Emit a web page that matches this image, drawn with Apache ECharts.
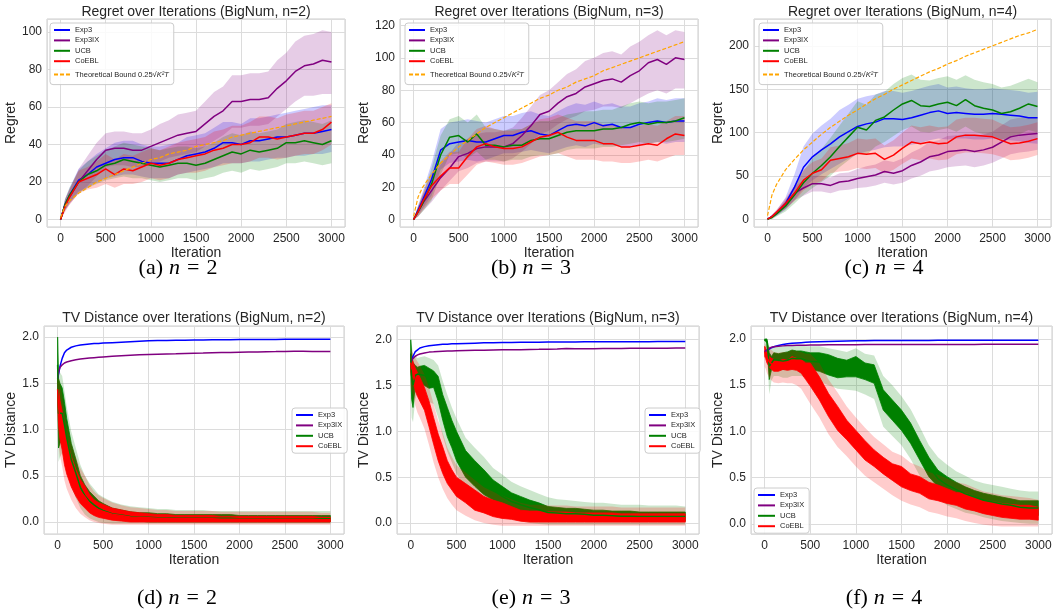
<!DOCTYPE html>
<html><head><meta charset="utf-8">
<script src="https://cdn.jsdelivr.net/npm/echarts@6/dist/echarts.min.js"></script>
<style>html,body{margin:0;padding:0;background:#fff}#c{width:1056px;height:610px}</style>
</head><body><div id="c"></div><script>
// ---------- iteration grids ----------
const regretIter = [0,50,100,200,300,400,500,600,700,800,900,1000,1100,1200,1300,1400,1500,1600,1700,1800,1900,2000,2100,2200,2300,2400,2500,2600,2700,2800,2900,3000];
const tvIter = [0,10,25,50,75,100,150,200,250,300,350,400,450,500,600,700,800,900,1000,1100,1200,1300,1400,1500,1600,1700,1800,1900,2000,2100,2200,2300,2400,2500,2600,2700,2800,2900,3000];

// ---------- Regret n=2 ----------
const r2Exp3   = [0,8,13,21,24,28,30,32,33,33,31,30,30,30,32,34,35,36,38,41,41,40,42,42,43,44,44,45,46,46,47,48];
const r2Exp3Lo = [0,5,9,15,17,20,22,23,24,24,23,22,22,22,24,25,26,27,28,30,30,30,31,31,32,33,33,34,34,35,35,36];
const r2Exp3Hi = [0,11,17,27,31,35,38,41,42,42,40,39,39,40,41,44,45,46,49,52,52,51,54,54,55,56,57,58,59,60,61,61];
const r2IX     = [0,8,12,20,26,32,37,38,38,37,37,39,41,43,45,46,47,51,55,58,63,63,64,64,65,70,74,79,82,83,85,84];
const r2IXLo   = [0,5,8,14,18,23,28,29,29,28,28,30,31,33,34,35,36,39,42,45,49,49,50,50,51,55,59,63,66,66,67,67];
const r2IXHi   = [0,11,16,27,34,41,46,47,47,46,46,48,51,53,56,57,58,63,68,71,77,77,78,78,79,85,89,95,98,99,101,100];
const r2UCB    = [0,8,13,20,24,26,29,30,32,31,30,29,28,29,30,30,29,30,32,34,36,35,37,36,37,38,41,41,42,41,40,42];
const r2UCBLo  = [0,5,9,14,17,19,21,22,23,22,22,21,20,21,22,22,21,22,23,25,26,25,27,26,27,28,30,30,31,30,29,30];
const r2UCBHi  = [0,11,17,26,31,34,37,39,41,40,39,38,37,38,39,39,38,39,41,44,46,45,47,46,47,48,51,52,53,52,51,53];
const r2Co     = [0,7,12,20,22,24,27,24,27,26,28,30,29,30,32,33,34,35,37,38,40,40,41,44,44,43,44,45,46,46,48,52];
const r2CoLo   = [0,4,8,14,16,17,19,17,19,19,20,22,21,22,24,25,25,26,28,29,30,30,31,33,33,32,33,34,35,35,37,40];
const r2CoHi   = [0,10,16,26,28,31,35,32,35,34,36,38,37,39,41,42,43,44,47,48,50,50,52,55,55,54,56,57,58,58,60,62];
const r2Bound  = [1,7,10,14,17,20,22,24,26,28,30,32,33,35,36,37,39,40,41,42,44,45,46,47,48,49,50,51,52,53,54,55];

// ---------- Regret n=3 ----------
const r3Exp3   = [0,6,12,25,43,47,48,49,48,48,50,52,52,54,55,53,52,55,58,59,58,60,58,59,57,57,59,60,61,60,61,61];
const r3Exp3Lo = [0,3,7,15,31,35,36,37,36,37,39,41,41,42,43,42,41,43,45,46,45,47,46,46,45,45,46,47,48,47,48,48];
const r3Exp3Hi = [0,9,17,35,56,60,61,62,61,60,62,64,64,66,67,65,64,67,70,72,71,73,71,72,70,70,72,73,75,74,75,75];
const r3IX     = [0,5,10,18,26,32,39,41,44,45,45,45,47,52,58,65,67,72,76,78,82,84,86,87,85,89,92,97,99,96,100,99];
const r3IXLo   = [0,2,5,11,18,24,30,32,35,36,36,36,38,42,47,53,55,59,62,64,67,68,70,70,69,72,75,78,80,78,81,81];
const r3IXHi   = [0,8,15,25,34,41,48,50,53,54,54,55,57,63,70,77,80,85,90,93,98,100,103,104,102,107,110,114,117,114,117,116];
const r3UCB    = [0,5,10,22,40,51,52,48,53,46,46,45,46,46,49,50,50,52,54,55,55,55,56,56,57,59,60,59,60,60,61,63];
const r3UCBLo  = [0,2,5,12,28,40,41,38,42,37,37,36,37,37,39,40,40,41,43,44,44,44,45,45,46,47,48,47,48,48,49,50];
const r3UCBHi  = [0,8,15,32,52,62,64,60,65,57,56,55,56,56,59,61,61,63,65,66,67,67,68,68,70,72,73,72,73,73,74,75];
const r3Co     = [0,5,11,21,27,32,32,39,45,47,45,44,44,45,48,51,52,54,51,49,49,49,47,47,45,45,46,47,46,50,53,52];
const r3CoLo   = [0,2,6,13,18,22,22,28,34,36,35,34,34,35,37,39,40,41,39,37,37,37,36,36,35,35,36,37,36,38,40,40];
const r3CoHi   = [0,8,16,29,36,42,42,50,56,58,56,55,55,56,59,62,63,65,63,61,61,61,59,59,57,57,58,59,58,61,64,64];
const r3Bound  = [2,14,20,28,35,40,45,49,53,57,60,63,66,69,72,75,77,80,82,85,87,89,92,94,96,98,100,102,104,106,108,110];

// ---------- Regret n=4 ----------
const r4Exp3   = [0,3,7,18,37,60,72,80,87,95,101,107,110,112,116,116,115,117,120,123,125,122,123,122,121,121,122,121,120,119,117,117];
const r4Exp3Lo = [0,1,4,11,22,36,45,52,58,64,70,75,78,80,83,84,84,86,88,91,93,92,93,93,92,92,93,92,91,90,88,87];
const r4Exp3Hi = [0,5,10,25,52,84,99,108,116,126,132,139,142,144,148,148,146,148,151,154,156,152,153,151,150,150,151,150,149,148,146,147];
const r4IX     = [0,3,7,17,30,36,41,41,39,43,44,47,49,51,55,53,56,62,66,72,74,78,79,80,78,80,83,89,95,97,98,99];
const r4IXLo   = [0,1,4,12,22,27,32,32,30,33,34,36,37,39,42,40,42,47,50,55,57,60,61,62,60,62,65,70,75,77,78,80];
const r4IXHi   = [0,5,10,22,38,45,50,50,48,53,54,58,61,63,68,66,70,77,82,89,91,96,97,98,96,98,101,108,115,117,118,118];
const r4UCB    = [0,2,6,15,28,42,53,62,72,84,95,106,103,114,118,126,133,137,131,130,133,135,131,138,131,128,126,122,124,128,133,130];
const r4UCBLo  = [0,0,3,9,18,28,36,43,50,60,68,76,74,84,89,96,103,107,101,100,103,105,101,107,101,98,96,92,94,98,103,100];
const r4UCBHi  = [0,4,9,21,38,56,70,81,94,108,122,136,132,144,147,156,163,167,161,160,163,165,161,166,161,158,156,152,154,158,162,158];
const r4Co     = [0,3,8,18,30,45,53,57,68,70,72,76,75,76,69,74,82,89,87,89,87,88,95,97,97,96,95,91,87,88,90,93];
const r4CoLo   = [0,1,5,12,21,33,40,44,53,55,56,59,58,59,53,57,64,70,68,70,68,69,75,77,77,76,75,72,68,69,71,74];
const r4CoHi   = [0,5,11,24,39,57,66,70,83,85,88,93,92,93,85,91,100,108,106,108,106,107,115,117,117,116,115,110,106,107,109,112];
const r4Bound  = [4,28,40,57,69,80,89,98,106,113,120,126,133,139,144,150,155,160,165,170,174,179,183,188,192,196,200,204,208,212,215,219];

// ---------- TV distance n=2 ----------
const tv2Exp3 = [1.55,1.6,1.68,1.77,1.83,1.86,1.89,1.905,1.915,1.92,1.925,1.93,1.932,1.935,1.94,1.945,1.95,1.955,1.96,1.962,1.964,1.966,1.967,1.968,1.969,1.97,1.971,1.972,1.973,1.974,1.974,1.975,1.975,1.976,1.976,1.977,1.977,1.978,1.978];
const tv2IX   = [1.55,1.62,1.67,1.7,1.72,1.73,1.745,1.755,1.762,1.768,1.773,1.777,1.781,1.785,1.792,1.798,1.803,1.808,1.812,1.815,1.818,1.82,1.823,1.825,1.827,1.83,1.832,1.834,1.836,1.838,1.84,1.842,1.843,1.845,1.846,1.846,1.845,1.844,1.843];
const tv2UCBLo  = [1.4,0.8,0.85,0.9,0.8,0.7,0.5,0.38,0.25,0.17,0.12,0.09,0.07,0.05,0.03,0.02,0.01,0.01,0,0,0,0,0,0,0,0,0,0,0,0,0,0,0,0,0,0,0,0,0];
const tv2UCBHi  = [2.0,1.55,1.5,1.45,1.3,1.12,0.85,0.68,0.5,0.4,0.33,0.28,0.23,0.2,0.15,0.13,0.11,0.1,0.1,0.09,0.09,0.08,0.08,0.08,0.08,0.08,0.08,0.08,0.07,0.07,0.07,0.07,0.07,0.07,0.07,0.07,0.07,0.07,0.07];
const tv2UCBBLo = [1.2,0.65,0.7,0.75,0.65,0.55,0.38,0.26,0.15,0.08,0.04,0.02,0,-0.01,-0.02,-0.02,-0.02,-0.02,-0.02,-0.02,-0.02,-0.02,-0.02,-0.02,-0.02,-0.02,-0.02,-0.02,-0.02,-0.02,-0.02,-0.02,-0.02,-0.02,-0.02,-0.02,-0.02,-0.02,-0.02];
const tv2UCBBHi = [2.0,1.65,1.62,1.58,1.42,1.25,0.98,0.8,0.62,0.5,0.42,0.36,0.3,0.27,0.22,0.19,0.17,0.16,0.15,0.14,0.14,0.13,0.13,0.13,0.13,0.12,0.12,0.12,0.12,0.12,0.12,0.12,0.12,0.12,0.12,0.12,0.12,0.12,0.12];
const tv2CoLo   = [1.3,1.05,0.9,0.78,0.62,0.52,0.38,0.28,0.2,0.15,0.1,0.07,0.05,0.04,0.02,0.01,0,0,0,0,0,0,0,0,0,0,0,0,0,0,0,0,0,0,0,0,0,0,0];
const tv2CoHi   = [1.57,1.45,1.32,1.2,1.03,0.9,0.71,0.57,0.46,0.39,0.3,0.24,0.21,0.19,0.15,0.13,0.11,0.1,0.09,0.08,0.08,0.07,0.07,0.07,0.07,0.07,0.06,0.06,0.06,0.06,0.06,0.06,0.06,0.06,0.06,0.06,0.06,0.05,0.05];
const tv2CoBLo  = [1.1,0.85,0.72,0.6,0.45,0.36,0.24,0.15,0.09,0.05,0.02,0,-0.01,-0.02,-0.03,-0.03,-0.03,-0.03,-0.03,-0.03,-0.03,-0.03,-0.03,-0.03,-0.03,-0.03,-0.03,-0.03,-0.03,-0.03,-0.03,-0.03,-0.03,-0.03,-0.03,-0.03,-0.03,-0.03,-0.03];
const tv2CoBHi  = [1.62,1.58,1.5,1.38,1.2,1.05,0.85,0.7,0.58,0.5,0.4,0.33,0.29,0.26,0.21,0.18,0.16,0.15,0.14,0.13,0.13,0.12,0.12,0.12,0.12,0.12,0.11,0.11,0.11,0.11,0.11,0.11,0.11,0.11,0.11,0.11,0.11,0.1,0.1];

// ---------- TV distance n=3 ----------
const tv3Exp3 = [1.75,1.77,1.82,1.87,1.89,1.91,1.925,1.935,1.94,1.945,1.95,1.952,1.955,1.957,1.96,1.963,1.966,1.968,1.97,1.971,1.972,1.973,1.974,1.975,1.975,1.976,1.976,1.977,1.977,1.978,1.978,1.978,1.979,1.979,1.979,1.98,1.98,1.98,1.98];
const tv3IX   = [1.75,1.78,1.8,1.82,1.835,1.845,1.855,1.865,1.868,1.872,1.874,1.876,1.878,1.88,1.882,1.884,1.886,1.888,1.89,1.891,1.892,1.894,1.895,1.897,1.9,1.905,1.903,1.902,1.903,1.904,1.905,1.905,1.906,1.906,1.907,1.907,1.908,1.909,1.91];
const tv3UCBLo  = [1.7,1.35,1.26,1.5,1.55,1.53,1.5,1.47,1.48,1.33,1.12,0.94,0.82,0.68,0.5,0.4,0.31,0.25,0.18,0.14,0.11,0.09,0.07,0.05,0.05,0.04,0.04,0.04,0.03,0.03,0.03,0.02,0.02,0.02,0.02,0.02,0.02,0.02,0.02];
const tv3UCBHi  = [2.0,1.85,1.75,1.72,1.7,1.71,1.72,1.69,1.66,1.6,1.4,1.26,1.12,1.0,0.79,0.68,0.58,0.47,0.4,0.33,0.29,0.25,0.22,0.18,0.17,0.16,0.16,0.15,0.14,0.14,0.13,0.13,0.13,0.12,0.12,0.12,0.12,0.12,0.12];
const tv3UCBBLo = [1.5,1.15,1.1,1.35,1.42,1.4,1.36,1.32,1.3,1.15,0.95,0.78,0.66,0.54,0.37,0.27,0.19,0.13,0.07,0.04,0.02,0,-0.01,-0.02,-0.02,-0.02,-0.02,-0.02,-0.02,-0.02,-0.02,-0.02,-0.02,-0.02,-0.02,-0.02,-0.02,-0.02,-0.02];
const tv3UCBBHi = [2.0,1.95,1.85,1.82,1.8,1.81,1.82,1.8,1.78,1.72,1.55,1.4,1.26,1.14,0.93,0.82,0.72,0.6,0.53,0.45,0.4,0.36,0.32,0.28,0.26,0.25,0.24,0.23,0.22,0.22,0.21,0.2,0.2,0.2,0.19,0.19,0.19,0.19,0.18];
const tv3CoLo   = [1.66,1.59,1.55,1.44,1.38,1.33,1.23,1.05,0.86,0.68,0.54,0.43,0.36,0.29,0.22,0.14,0.11,0.07,0.05,0.04,0.02,0.01,0.01,0.01,0.01,0.01,0.01,0.01,0.01,0.01,0.01,0.01,0.01,0.01,0.01,0.01,0.01,0.01,0.01];
const tv3CoHi   = [1.84,1.8,1.76,1.69,1.64,1.59,1.48,1.33,1.15,0.97,0.83,0.68,0.58,0.5,0.43,0.36,0.29,0.25,0.22,0.18,0.14,0.13,0.13,0.12,0.12,0.12,0.11,0.11,0.11,0.11,0.11,0.1,0.1,0.1,0.1,0.1,0.1,0.1,0.1];
const tv3CoBLo  = [1.5,1.45,1.4,1.28,1.2,1.15,1.03,0.85,0.66,0.5,0.37,0.27,0.2,0.14,0.08,0.03,0,-0.02,-0.03,-0.03,-0.03,-0.03,-0.03,-0.03,-0.03,-0.03,-0.03,-0.03,-0.03,-0.03,-0.03,-0.03,-0.03,-0.03,-0.03,-0.03,-0.03,-0.03,-0.03];
const tv3CoBHi  = [1.9,1.88,1.85,1.8,1.76,1.72,1.62,1.48,1.3,1.12,0.98,0.82,0.72,0.63,0.55,0.47,0.39,0.34,0.3,0.26,0.22,0.2,0.2,0.19,0.19,0.19,0.18,0.18,0.18,0.18,0.18,0.17,0.17,0.17,0.17,0.17,0.17,0.17,0.17];

// ---------- TV distance n=4 ----------
const tv4Exp3 = [1.86,1.87,1.88,1.89,1.905,1.915,1.93,1.94,1.948,1.953,1.957,1.96,1.963,1.966,1.97,1.973,1.976,1.978,1.98,1.981,1.982,1.982,1.983,1.983,1.984,1.984,1.984,1.985,1.985,1.985,1.985,1.986,1.986,1.986,1.986,1.986,1.986,1.986,1.986];
const tv4IX   = [1.86,1.87,1.88,1.9,1.91,1.915,1.92,1.925,1.928,1.93,1.931,1.932,1.933,1.934,1.935,1.936,1.937,1.938,1.938,1.939,1.939,1.939,1.94,1.94,1.94,1.94,1.94,1.941,1.941,1.941,1.941,1.941,1.942,1.942,1.942,1.942,1.942,1.942,1.942];
const tv4UCBLo  = [1.98,1.98,1.95,1.56,1.67,1.7,1.7,1.67,1.68,1.7,1.7,1.7,1.68,1.67,1.65,1.61,1.58,1.59,1.59,1.56,1.52,1.23,1.12,1.01,0.87,0.69,0.51,0.4,0.33,0.29,0.25,0.22,0.18,0.16,0.14,0.13,0.11,0.09,0.09];
const tv4UCBHi  = [2.0,2.0,2.0,1.85,1.81,1.85,1.84,1.85,1.86,1.88,1.87,1.87,1.86,1.85,1.85,1.83,1.79,1.77,1.81,1.74,1.72,1.45,1.34,1.23,1.09,0.9,0.72,0.58,0.51,0.45,0.4,0.36,0.33,0.31,0.29,0.27,0.25,0.25,0.25];
const tv4UCBBLo = [1.9,1.9,1.85,1.4,1.55,1.6,1.6,1.58,1.58,1.6,1.6,1.6,1.58,1.57,1.54,1.5,1.46,1.45,1.44,1.4,1.35,1.05,0.95,0.85,0.7,0.52,0.37,0.27,0.2,0.16,0.12,0.1,0.07,0.05,0.03,0.02,0.01,0,0];
const tv4UCBBHi = [2.0,2.0,2.0,1.92,1.9,1.92,1.92,1.92,1.93,1.94,1.93,1.93,1.92,1.92,1.92,1.9,1.88,1.86,1.9,1.84,1.82,1.6,1.5,1.38,1.24,1.05,0.85,0.72,0.64,0.57,0.52,0.47,0.44,0.42,0.4,0.38,0.36,0.35,0.35];
const tv4CoLo   = [1.81,1.79,1.74,1.7,1.67,1.65,1.65,1.67,1.66,1.67,1.66,1.63,1.56,1.49,1.34,1.16,1.01,0.91,0.8,0.69,0.62,0.54,0.47,0.4,0.36,0.33,0.27,0.25,0.22,0.2,0.16,0.14,0.11,0.09,0.07,0.06,0.05,0.05,0.04];
const tv4CoHi   = [1.92,1.9,1.85,1.81,1.79,1.78,1.76,1.78,1.77,1.81,1.79,1.78,1.74,1.74,1.59,1.41,1.27,1.12,1.01,0.9,0.8,0.72,0.65,0.62,0.54,0.51,0.45,0.42,0.38,0.34,0.33,0.29,0.25,0.24,0.22,0.21,0.2,0.2,0.18];
const tv4CoBLo  = [1.7,1.68,1.63,1.58,1.55,1.53,1.52,1.53,1.52,1.52,1.5,1.46,1.38,1.3,1.15,0.97,0.83,0.73,0.62,0.52,0.45,0.38,0.31,0.25,0.21,0.18,0.13,0.11,0.08,0.06,0.03,0.01,-0.01,-0.02,-0.03,-0.03,-0.03,-0.03,-0.03];
const tv4CoBHi  = [1.95,1.94,1.92,1.9,1.88,1.86,1.85,1.86,1.86,1.88,1.87,1.86,1.84,1.84,1.74,1.56,1.42,1.27,1.15,1.04,0.94,0.86,0.78,0.74,0.66,0.62,0.56,0.53,0.49,0.45,0.43,0.39,0.35,0.33,0.31,0.3,0.29,0.28,0.26];

// ---------- text ----------
const regretTitles = ['Regret over Iterations (BigNum, n=2)','Regret over Iterations (BigNum, n=3)','Regret over Iterations (BigNum, n=4)'];
const tvTitles = ['TV Distance over Iterations (BigNum, n=2)','TV Distance over Iterations (BigNum, n=3)','TV Distance over Iterations (BigNum, n=4)'];
const captionLetters = ['a','b','c','d','e','f'];
const captionN = [2,3,4,2,3,4];
const algNames = ['Exp3','Exp3IX','UCB','CoEBL'];
const boundName = 'Theoretical Bound';

// ---------- styling / layout ----------
const FONT = "'Liberation Sans', Arial, sans-serif";
const SERIF = "'Liberation Serif', 'DejaVu Serif', serif";
const TXT = '#262626';
const COLORS = ['#0000ff','#800080','#008000','#ff0000'];
const BANDS = ['rgba(0,0,255,0.2)','rgba(128,0,128,0.2)','rgba(0,128,0,0.2)','rgba(255,0,0,0.2)'];
const grids = [
  {left:47, top:19, width:298, height:208},
  {left:400, top:19, width:298, height:208},
  {left:754, top:19, width:297, height:208},
  {left:44, top:326, width:300, height:208},
  {left:397, top:326, width:302, height:208},
  {left:751, top:326, width:301, height:208}
];
const yCfg = [
  {min:-4, max:107, split:5, step:20, dec:0, name:'Regret', gap:25},
  {min:-4.5, max:124, split:6, step:20, dec:0, name:'Regret', gap:26},
  {min:-9, max:231, split:5, step:50, dec:0, name:'Regret', gap:26},
  {min:-0.13, max:2.12, split:5, step:0.5, dec:1, name:'TV Distance', gap:22},
  {min:-0.12, max:2.15, split:5, step:0.5, dec:1, name:'TV Distance', gap:23},
  {min:-0.11, max:2.14, split:5, step:0.5, dec:1, name:'TV Distance', gap:24}
];

function pairs(xs, ys){ return xs.map((x,i)=>[x, ys[i]]); }
function lineS(gi, xs, ys, name, color, width, dash){
  return {type:'line', name:name, xAxisIndex:gi, yAxisIndex:gi, data:pairs(xs,ys),
    symbol:'none', showSymbol:false, silent:true, smooth:false,
    lineStyle:{color:color, width:width, type: dash || 'solid'}, itemStyle:{color:color}};
}
function bandS(gi, xs, lo, hi, fill, stroke){
  return {type:'custom', xAxisIndex:gi, yAxisIndex:gi, silent:true, data:[[xs[0], lo[0]]], encode:{x:0, y:1},
    renderItem:function(params, api){
      const pts = [];
      for (let i=0;i<xs.length;i++) pts.push(api.coord([xs[i], hi[i]]));
      for (let i=xs.length-1;i>=0;i--) pts.push(api.coord([xs[i], lo[i]]));
      return {type:'polygon', shape:{points:pts}, style:{fill:fill, stroke: stroke || null, lineWidth: stroke ? 0.8 : 0}};
    }};
}

const regretPanels = [
  {mean:[r2Exp3,r2IX,r2UCB,r2Co], lo:[r2Exp3Lo,r2IXLo,r2UCBLo,r2CoLo], hi:[r2Exp3Hi,r2IXHi,r2UCBHi,r2CoHi], bound:r2Bound},
  {mean:[r3Exp3,r3IX,r3UCB,r3Co], lo:[r3Exp3Lo,r3IXLo,r3UCBLo,r3CoLo], hi:[r3Exp3Hi,r3IXHi,r3UCBHi,r3CoHi], bound:r3Bound},
  {mean:[r4Exp3,r4IX,r4UCB,r4Co], lo:[r4Exp3Lo,r4IXLo,r4UCBLo,r4CoLo], hi:[r4Exp3Hi,r4IXHi,r4UCBHi,r4CoHi], bound:r4Bound}
];
const tvPanels = [
  {exp3:tv2Exp3, ix:tv2IX, ucb:[tv2UCBLo,tv2UCBHi,tv2UCBBLo,tv2UCBBHi], co:[tv2CoLo,tv2CoHi,tv2CoBLo,tv2CoBHi]},
  {exp3:tv3Exp3, ix:tv3IX, ucb:[tv3UCBLo,tv3UCBHi,tv3UCBBLo,tv3UCBBHi], co:[tv3CoLo,tv3CoHi,tv3CoBLo,tv3CoBHi]},
  {exp3:tv4Exp3, ix:tv4IX, ucb:[tv4UCBLo,tv4UCBHi,tv4UCBBLo,tv4UCBBHi], co:[tv4CoLo,tv4CoHi,tv4CoBLo,tv4CoBHi]}
];

const series = [];
regretPanels.forEach((p, gi) => {
  for (let k=0;k<4;k++){
    series.push(lineS(gi, regretIter, p.mean[k], algNames[k], COLORS[k], 1.5));
    series.push(bandS(gi, regretIter, p.lo[k], p.hi[k], BANDS[k]));
  }
  series.push(lineS(gi, regretIter, p.bound, boundName, '#ffa500', 1.2, [4,2]));
});
tvPanels.forEach((p, j) => {
  const gi = j + 3;
  series.push(lineS(gi, tvIter, p.exp3, 'Exp3', COLORS[0], 1.5));
  series.push(lineS(gi, tvIter, p.ix, 'Exp3IX', COLORS[1], 1.5));
  [[p.ucb, 2, 'UCB'], [p.co, 3, 'CoEBL']].forEach(([arr, k, nm]) => {
    series.push(bandS(gi, tvIter, arr[0], arr[1], COLORS[k], COLORS[k]));
    series.push(lineS(gi, tvIter, arr[0].map((v,i)=>(v+arr[1][i])/2), nm, COLORS[k], 1.5));
    series.push(bandS(gi, tvIter, arr[2], arr[3], BANDS[k]));
  });
});

const xAxes = grids.map((g, gi) => ({
  type:'value', gridIndex:gi, min:-150, max:3150, splitNumber:7,
  axisLine:{show:false}, axisTick:{show:false},
  splitLine:{show:true, lineStyle:{color:'#dcdcdc', width:1}},
  axisLabel:{margin:6, fontSize:12, color:TXT, fontFamily:FONT,
    formatter: v => (Math.abs(v/500 - Math.round(v/500)) < 1e-9 ? String(Math.round(v)) : '')},
  name:'Iteration', nameLocation:'middle', nameGap: gi < 3 ? 15 : 15,
  nameTextStyle:{fontSize:14, color:TXT, fontFamily:FONT}
}));
const yAxes = yCfg.map((c, gi) => ({
  type:'value', gridIndex:gi, min:c.min, max:c.max, splitNumber:c.split,
  axisLine:{show:false}, axisTick:{show:false},
  splitLine:{show:true, lineStyle:{color:'#dcdcdc', width:1}},
  axisLabel:{margin:5, fontSize:12, color:TXT, fontFamily:FONT,
    formatter: v => (Math.abs(v/c.step - Math.round(v/c.step)) < 1e-9 ? v.toFixed(c.dec) : '')},
  name:c.name, nameLocation:'middle', nameGap:c.gap, nameRotate:90,
  nameTextStyle:{fontSize:14, color:TXT, fontFamily:FONT}
}));

function legendCfg(left, top, names, itemWidth){
  return {left:left, top:top, orient:'vertical', data:names, selectedMode:false,
    itemWidth:itemWidth, itemHeight:8, itemGap:0.4, padding:[2,5,2,3],
    backgroundColor:'rgba(255,255,255,0.85)', borderColor:'#cccccc', borderWidth:1, borderRadius:3,
    itemStyle:{opacity:0},
    textStyle:{fontSize:7.5, lineHeight:10, color:TXT, fontFamily:FONT,
      rich:{b:{fontSize:7.5, lineHeight:16, color:TXT, fontFamily:FONT},
            i:{fontSize:7.5, lineHeight:16, fontStyle:'italic', color:TXT, fontFamily:FONT}}},
    formatter: n => n === boundName ? '{b|Theoretical Bound 0.25√}{i|K²T}' : n};
}
const legends = [
  legendCfg(50, 23, algNames.concat([boundName]), 16),
  legendCfg(405, 23, algNames.concat([boundName]), 16),
  legendCfg(759, 23, algNames.concat([boundName]), 16),
  legendCfg(292, 408, algNames, 17),
  legendCfg(645, 408, algNames, 17),
  legendCfg(754, 488, algNames, 17)
];

const titles = [];
grids.forEach((g, gi) => {
  titles.push({text: gi < 3 ? regretTitles[gi] : tvTitles[gi-3], left: g.left + g.width/2, top: gi < 3 ? 5 : 311,
    textAlign:'center', padding:0,
    textStyle:{fontSize:14, fontWeight:'normal', color:TXT, fontFamily:FONT}});
});
const capX = [178, 531, 884, 177, 531, 884];
const capRich = {
  p:{fontSize:22, color:'#000', fontFamily:SERIF},
  i:{fontSize:22, fontStyle:'italic', color:'#000', fontFamily:SERIF, padding:[0,7,0,6]},
  e:{fontSize:22, color:'#000', fontFamily:SERIF, padding:[0,7,0,0]}
};
captionLetters.forEach((l, i) => {
  titles.push({text: '{p|(' + l + ')}{i|n}{e|=}{p|' + captionN[i] + '}', left: capX[i], top: i < 3 ? 257 : 587,
    textAlign:'center', padding:0,
    textStyle:{fontSize:22, fontWeight:'normal', color:'#000', fontFamily:SERIF, rich:capRich}});
});

const chart = echarts.init(document.getElementById('c'), null, {renderer:'canvas'});
chart.setOption({
  animation:false,
  backgroundColor:'#ffffff',
  title: titles,
  legend: legends,
  grid: grids.map(g => Object.assign({show:true, borderColor:'#cccccc', borderWidth:1, backgroundColor:'#ffffff'}, g)),
  xAxis: xAxes,
  yAxis: yAxes,
  series: series
});
</script></body></html>
